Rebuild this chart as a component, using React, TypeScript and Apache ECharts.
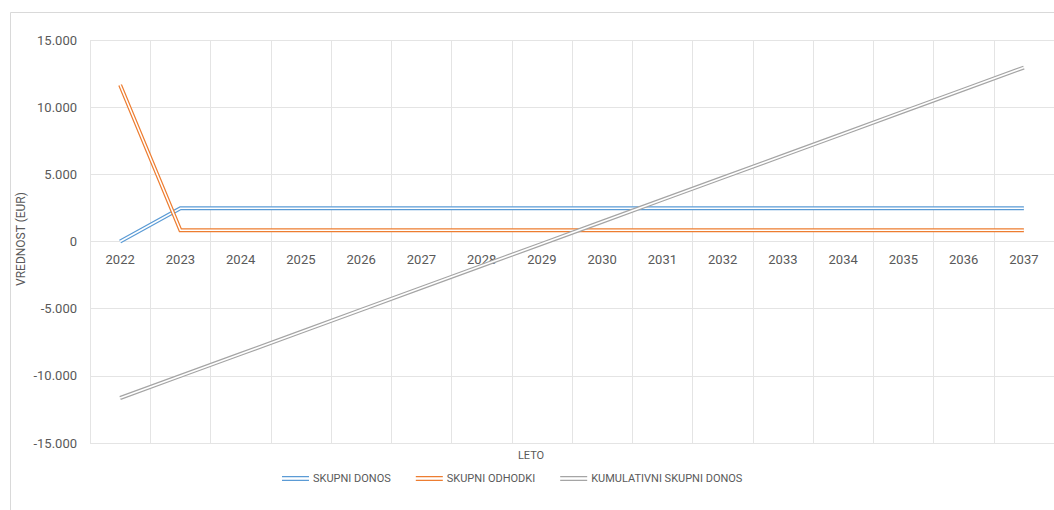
import React, { useEffect, useRef } from "react";
import * as echarts from "echarts";

// Years on the category axis
const years = [
  "2022", "2023", "2024", "2025", "2026", "2027", "2028", "2029",
  "2030", "2031", "2032", "2033", "2034", "2035", "2036", "2037",
];

// Annual totals and the running cumulative total (EUR)
const skupniDonos = [0, 2480, 2480, 2480, 2480, 2480, 2480, 2480, 2480, 2480, 2480, 2480, 2480, 2480, 2480, 2480];
const skupniOdhodki = [11650, 840, 840, 840, 840, 840, 840, 840, 840, 840, 840, 840, 840, 840, 840, 840];
const kumulativniDonos = [
  -11650, -10010, -8370, -6730, -5090, -3450, -1810, -170,
  1470, 3110, 4750, 6390, 8030, 9670, 11310, 12950,
];

const seriesNames = ["SKUPNI DONOS", "SKUPNI ODHODKI", "KUMULATIVNI SKUPNI DONOS"];
const seriesColors = ["#5B9BD5", "#ED7D31", "#A5A5A5"];

const FONT = "Roboto";
const TEXT = "#595959";
const GRID = "#E4E4E4";

// Plot geometry: year labels sit just under the zero line
const PLOT_TOP = 40;
const PLOT_HEIGHT = 403;
const Y_MIN = -15000;
const Y_MAX = 15000;
const zeroOffsetFromBottom = (PLOT_HEIGHT * (0 - Y_MIN)) / (Y_MAX - Y_MIN);

// A double ("compound") stroke: a wide coloured line with a thin white core.
function doubleLine(name: string, data: number[], color: string) {
  return [
    {
      name,
      type: "line",
      data,
      showSymbol: false,
      symbol: "none",
      silent: true,
      itemStyle: { color },
      lineStyle: { color, width: 4, join: "miter", cap: "butt" },
    },
    {
      name: name + " ",
      type: "line",
      data,
      showSymbol: false,
      symbol: "none",
      silent: true,
      itemStyle: { color: "#ffffff" },
      lineStyle: { color: "#ffffff", width: 1.6, join: "miter", cap: "butt" },
    },
  ];
}

function formatThousands(v: number): string {
  const s = Math.abs(v).toString().replace(/\B(?=(\d{3})+(?!\d))/g, ".");
  return v < 0 ? "-" + s : s;
}

export default function App() {
  const ref = useRef<HTMLDivElement>(null);

  useEffect(() => {
    if (!ref.current) return;
    const chart = echarts.init(ref.current, undefined, { renderer: "svg" });
    const allData = [skupniDonos, skupniOdhodki, kumulativniDonos];

    chart.setOption({
      animation: false,
      backgroundColor: "#ffffff",
      textStyle: { fontFamily: FONT },
      grid: { left: 90, top: PLOT_TOP, width: 967, height: PLOT_HEIGHT, containLabel: false },
      legend: {
        data: seriesNames,
        left: 277,
        top: 468,
        itemWidth: 27,
        itemHeight: 5,
        itemGap: 25,
        icon: "path://M0,0H27V1.3H0Z M0,3.7H27V5H0Z",
        textStyle: { color: TEXT, fontSize: 11, fontFamily: FONT, padding: [0, 0, 0, -1] },
        selectedMode: false,
      },
      xAxis: {
        type: "category",
        data: years,
        boundaryGap: true,
        axisLine: { show: false, onZero: false },
        axisTick: { show: false },
        axisLabel: {
          color: TEXT,
          fontSize: 13,
          fontFamily: FONT,
          margin: 11 - zeroOffsetFromBottom,
        },
        splitLine: { show: true, lineStyle: { color: GRID, width: 1 } },
      },
      yAxis: {
        type: "value",
        min: Y_MIN,
        max: Y_MAX,
        interval: 5000,
        axisLine: { show: false },
        axisTick: { show: false },
        axisLabel: {
          color: TEXT,
          fontSize: 13,
          fontFamily: FONT,
          margin: 13,
          formatter: (v: number) => formatThousands(v),
        },
        splitLine: { show: true, lineStyle: { color: GRID, width: 1 } },
      },
      series: seriesNames.flatMap((n, i) => doubleLine(n, allData[i], seriesColors[i])),
      graphic: [
        {
          type: "rect",
          silent: true,
          shape: { x: 10.5, y: 12.5, width: 1200, height: 700 },
          style: { fill: "none", stroke: "#D9D9D9", lineWidth: 1 },
        },
        {
          type: "text",
          silent: true,
          x: 21,
          y: 239,
          rotation: Math.PI / 2,
          style: {
            text: "VREDNOST (EUR)",
            fill: TEXT,
            font: `12px ${FONT}`,
            textAlign: "center",
            textVerticalAlign: "middle",
          },
        },
        {
          type: "text",
          silent: true,
          x: 531,
          y: 455,
          style: {
            text: "LETO",
            fill: TEXT,
            font: `11px ${FONT}`,
            textAlign: "center",
            textVerticalAlign: "middle",
          },
        },
      ],
    });

    return () => chart.dispose();
  }, []);

  return (
    <div
      ref={ref}
      style={{ position: "fixed", left: 0, top: 0, width: 1054, height: 510, background: "#fff" }}
    />
  );
}
